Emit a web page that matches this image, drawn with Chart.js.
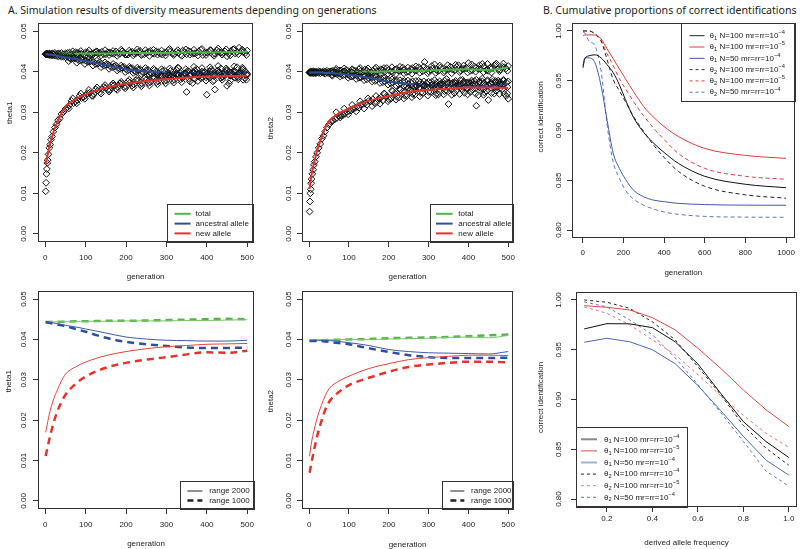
<!DOCTYPE html>
<html><head><meta charset="utf-8">
<script src="https://cdn.jsdelivr.net/npm/chart.js@4.4.1/dist/chart.umd.min.js"></script>
<style>
html,body{margin:0;padding:0;background:#fff;}
#wrap{position:relative;width:800px;height:549px;overflow:hidden;background:#fff;}
canvas{position:absolute;}
.ttl{position:absolute;font-family:"Noto Sans";color:#231f20;white-space:nowrap;line-height:1;}
</style></head><body>
<div id="wrap">
<div class="ttl" id="tA">A. Simulation results of diversity measurements depending on generations</div>
<div class="ttl" id="tB">B. Cumulative proportions of correct identifications</div>
</div>
<script>
// ---------- DATA ----------
// scatter generations (top panels), three interleaved sampling grids
const sx = [1,2,3,4,5,6,8,10,12,14,17,20,24,28,32,36,40,45,50,60,70,80,90,100,110,120,130,140,150,160,170,180,190,200,210,220,230,240,250,260,270,280,290,300,310,320,330,340,350,360,370,380,390,400,410,420,430,440,450,460,470,480,490,500];
const sx2 = [55,65,75,85,95,105,115,125,135,145,155,165,175,185,195,205,215,225,235,245,255,265,275,285,295,305,315,325,335,345,355,365,375,385,395,405,415,425,435,445,455,465,475,485,495];
const sx3 = [58,68,78,88,98,108,118,128,138,148,158,168,178,188,198,208,218,228,238,248,258,268,278,288,298,308,318,328,338,348,358,368,378,388,398,408,418,428,438,448,458,468,478,488,498];
const t1TotalPts = [0.0443,0.0443,0.0444,0.0443,0.0444,0.0444,0.0443,0.0445,0.0444,0.0443,0.0445,0.0444,0.0446,0.0443,0.0445,0.0444,0.0446,0.0443,
 0.0445,0.0447,0.0443,0.0446,0.0444,0.0448,0.0442,0.0446,0.0445,0.0449,0.0443,0.0447,0.0444,0.0446,0.0450,0.0442,0.0447,0.0445,0.0449,0.0443,0.0446,0.0451,0.0444,0.0448,0.0442,0.0447,0.0450,0.0444,0.0446,0.0452,0.0443,0.0448,0.0445,0.0450,0.0441,0.0447,0.0453,0.0444,0.0449,0.0446,0.0438,0.0451,0.0445,0.0459,0.0448,0.0452];
const t1TotalPts2 = [0.0446,0.0443,0.0448,0.0445,0.0442,0.0447,0.0444,0.0449,0.0446,0.0443,0.0448,0.0445,0.0450,0.0444,0.0447,0.0442,0.0449,0.0446,0.0451,0.0443,0.0448,0.0445,0.0450,0.0444,0.0447,0.0453,0.0445,0.0449,0.0442,0.0448,0.0451,0.0444,0.0447,0.0454,0.0446,0.0449,0.0443,0.0452,0.0447,0.0450,0.0445,0.0455,0.0448,0.0451,0.0446];
const t1TotalPts3 = [0.0440,0.0450,0.0441,0.0451,0.0439,0.0452,0.0442,0.0450,0.0440,0.0453,0.0441,0.0451,0.0439,0.0454,0.0442,0.0452,0.0440,0.0455,0.0441,0.0453,0.0439,0.0454,0.0442,0.0452,0.0440,0.0456,0.0441,0.0453,0.0439,0.0455,0.0442,0.0454,0.0440,0.0456,0.0441,0.0453,0.0439,0.0457,0.0442,0.0455,0.0440,0.0456,0.0443,0.0454,0.0441];
const t1AncPts = [0.0443,0.0443,0.0443,0.0442,0.0443,0.0442,0.0442,0.0441,0.0442,0.0441,0.0440,0.0441,0.0440,0.0439,0.0438,0.0439,0.0437,0.0437,
 0.0436,0.0433,0.0434,0.0430,0.0429,0.0427,0.0425,0.0424,0.0420,0.0419,0.0417,0.0414,0.0413,0.0409,0.0410,0.0406,0.0408,0.0402,0.0405,0.0399,0.0403,0.0397,0.0404,0.0396,0.0401,0.0394,0.0402,0.0397,0.0409,0.0393,0.0400,0.0395,0.0403,0.0391,0.0399,0.0396,0.0405,0.0392,0.0398,0.0394,0.0402,0.0390,0.0400,0.0396,0.0407,0.0395];
const t1AncPts2 = [0.0437,0.0431,0.0433,0.0427,0.0430,0.0424,0.0427,0.0419,0.0423,0.0415,0.0418,0.0411,0.0415,0.0407,0.0412,0.0403,0.0409,0.0400,0.0406,0.0398,0.0404,0.0395,0.0401,0.0393,0.0403,0.0397,0.0392,0.0404,0.0396,0.0390,0.0401,0.0398,0.0406,0.0393,0.0399,0.0389,0.0402,0.0395,0.0408,0.0391,0.0400,0.0394,0.0411,0.0397,0.0401];
const t1AncPts3 = [0.0426,0.0438,0.0422,0.0434,0.0419,0.0431,0.0415,0.0427,0.0411,0.0423,0.0407,0.0419,0.0403,0.0415,0.0399,
 0.0412,0.0397,0.0410,0.0394,0.0409,0.0392,0.0407,0.0391,0.0406,0.0390,
 0.0408,0.0389,0.0410,0.0387,0.0406,0.0390,0.0412,0.0388,0.0409,0.0386,0.0411,0.0389,0.0414,0.0387,0.0408,0.0390,0.0413,0.0386,0.0410,0.0392];
const t1NewPts = [0.0105,0.0126,0.0148,0.0160,0.0175,0.0182,0.0196,0.0212,0.0220,0.0232,0.0240,0.0252,0.0262,0.0270,0.0280,0.0285,0.0296,0.0300,
 0.0308,0.0318,0.0322,0.0330,0.0335,0.0342,0.0348,0.0345,0.0353,0.0357,0.0360,0.0355,0.0366,0.0362,0.0370,0.0364,0.0373,0.0368,0.0378,0.0370,0.0380,0.0374,0.0385,0.0376,0.0388,0.0378,0.0390,0.0380,0.0392,0.0384,0.0350,0.0391,0.0382,0.0395,0.0386,0.0343,0.0394,0.0356,0.0397,0.0387,0.0365,0.0398,0.0385,0.0396,0.0380,0.0392];
const t1NewPts2 = [0.0312,0.0328,0.0327,0.0340,0.0337,0.0347,0.0341,0.0356,0.0349,0.0362,0.0355,0.0367,0.0358,0.0371,0.0362,0.0376,0.0366,0.0379,0.0369,0.0383,0.0372,0.0386,0.0374,0.0389,0.0377,0.0392,0.0378,0.0394,0.0381,0.0396,0.0383,0.0372,0.0397,0.0384,0.0399,0.0386,0.0376,0.0401,0.0385,0.0398,0.0371,0.0400,0.0387,0.0402,0.0384];
const t1NewPts3 = [0.0309,0.0334,0.0322,0.0346,0.0333,0.0355,0.0340,0.0361,0.0346,0.0367,0.0351,0.0371,0.0355,0.0375,0.0359,
 0.0380,0.0361,0.0383,0.0364,0.0386,0.0366,0.0388,0.0369,0.0390,0.0371,
 0.0392,0.0373,0.0394,0.0374,0.0396,0.0376,0.0398,0.0377,0.0400,0.0378,0.0401,0.0379,0.0403,0.0380,0.0404,0.0378,0.0402,0.0381,0.0405,0.0380];
const t2TotalPts = [0.0398,0.0399,0.0398,0.0400,0.0399,0.0398,0.0400,0.0399,0.0401,0.0398,0.0400,0.0399,0.0401,0.0400,0.0399,0.0401,0.0400,0.0402,
 0.0400,0.0402,0.0399,0.0403,0.0401,0.0398,0.0404,0.0400,0.0402,0.0405,0.0399,0.0403,0.0401,0.0406,0.0400,0.0404,0.0398,0.0407,0.0402,0.0405,0.0400,0.0409,0.0403,0.0406,0.0424,0.0401,0.0408,0.0404,0.0410,0.0402,0.0407,0.0405,0.0412,0.0403,0.0408,0.0421,0.0404,0.0410,0.0406,0.0413,0.0402,0.0409,0.0420,0.0405,0.0411,0.0414];
const t2TotalPts2 = [0.0401,0.0398,0.0403,0.0400,0.0404,0.0399,0.0402,0.0406,0.0400,0.0403,0.0398,0.0407,0.0401,0.0404,0.0409,0.0400,0.0405,0.0402,0.0410,0.0399,0.0406,0.0403,0.0411,0.0401,0.0407,0.0404,0.0418,0.0402,0.0408,0.0405,0.0412,0.0403,0.0416,0.0406,0.0409,0.0402,0.0413,0.0407,0.0419,0.0404,0.0410,0.0415,0.0406,0.0412,0.0408];
const t2TotalPts3 = [0.0393,0.0407,0.0394,0.0408,0.0392,0.0406,0.0395,0.0409,0.0393,0.0408,0.0394,0.0410,0.0392,0.0409,0.0395,
 0.0411,0.0394,0.0412,0.0396,0.0410,0.0395,0.0413,0.0397,0.0412,0.0396,
 0.0414,0.0397,0.0415,0.0398,0.0416,0.0396,0.0417,0.0399,0.0415,0.0398,0.0418,0.0400,0.0416,0.0399,0.0419,0.0398,0.0417,0.0401,0.0420,0.0402];
const t2AncPts = [0.0398,0.0397,0.0398,0.0397,0.0398,0.0397,0.0398,0.0396,0.0398,0.0397,0.0396,0.0398,0.0397,0.0396,0.0398,0.0397,0.0395,0.0397,
 0.0396,0.0398,0.0394,0.0396,0.0392,0.0394,0.0389,0.0391,0.0386,0.0389,0.0384,0.0387,0.0380,0.0384,0.0376,0.0380,0.0373,0.0378,0.0371,0.0377,0.0369,0.0376,0.0366,0.0374,0.0365,0.0375,0.0363,0.0373,0.0366,0.0378,0.0362,0.0372,0.0365,0.0379,0.0361,0.0371,0.0367,0.0380,0.0360,0.0372,0.0366,0.0381,0.0362,0.0374,0.0368,0.0376];
const t2AncPts2 = [0.0399,0.0395,0.0397,0.0391,0.0395,0.0388,0.0392,0.0385,0.0390,0.0381,0.0386,0.0377,0.0383,0.0374,0.0380,0.0371,0.0378,0.0369,0.0376,0.0364,0.0374,0.0362,0.0377,0.0367,0.0372,0.0361,0.0379,0.0364,0.0370,0.0382,0.0360,0.0373,0.0366,0.0380,0.0359,0.0371,0.0377,0.0363,0.0383,0.0365,0.0372,0.0361,0.0378,0.0369,0.0374];
const t2AncPts3 = [0.0390,0.0403,0.0388,0.0401,0.0385,0.0398,0.0382,0.0395,0.0379,0.0392,0.0376,0.0388,0.0372,0.0384,0.0368,
 0.0381,0.0366,0.0379,0.0364,0.0378,0.0362,0.0377,0.0361,0.0376,0.0360,
 0.0375,0.0358,0.0376,0.0359,0.0374,0.0357,0.0377,0.0360,0.0375,0.0358,0.0378,0.0359,0.0376,0.0357,0.0379,0.0360,0.0377,0.0358,0.0380,0.0362];
const t2NewPts = [0.0055,0.0080,0.0100,0.0110,0.0125,0.0135,0.0148,0.0158,0.0170,0.0178,0.0190,0.0200,0.0212,0.0222,0.0235,0.0242,0.0252,0.0262,
 0.0270,0.0280,0.0286,0.0292,0.0296,0.0303,0.0308,0.0313,0.0318,0.0322,0.0328,0.0332,0.0325,0.0336,0.0345,0.0332,0.0352,0.0338,0.0356,0.0341,0.0360,0.0345,0.0364,0.0348,0.0366,0.0350,0.0368,0.0346,0.0370,0.0352,0.0320,0.0372,0.0354,0.0368,0.0348,0.0374,0.0356,0.0316,0.0371,0.0349,0.0330,0.0375,0.0353,0.0369,0.0345,0.0333];
const t2NewPts2 = [0.0276,0.0283,0.0291,0.0293,0.0301,0.0304,0.0310,0.0311,0.0320,0.0318,0.0327,0.0322,0.0334,0.0329,0.0340,0.0333,0.0347,0.0336,0.0351,0.0340,0.0355,0.0343,0.0360,0.0347,0.0363,0.0350,0.0367,0.0344,0.0369,0.0353,0.0371,0.0347,0.0366,0.0355,0.0373,0.0350,0.0369,0.0342,0.0376,0.0352,0.0370,0.0346,0.0374,0.0357,0.0340];
const t2NewPts3 = [0.0278,0.0300,0.0287,0.0309,0.0295,0.0318,0.0302,0.0327,0.0309,0.0334,0.0315,0.0340,0.0321,0.0346,0.0327,
 0.0353,0.0331,0.0356,0.0334,0.0359,0.0337,0.0362,0.0339,0.0365,0.0341,
 0.0368,0.0342,0.0369,0.0344,0.0371,0.0343,0.0372,0.0345,0.0373,0.0344,0.0374,0.0346,0.0375,0.0343,0.0376,0.0347,0.0374,0.0345,0.0377,0.0346];

// smoothed curves (range 2000 = solid, range 1000 = dashed)
const lg = [1,5,10,20,30,40,50,75,100,150,200,250,300,350,400,450,500];
const t1Total  = [0.0443,0.0443,0.0443,0.0443,0.0444,0.0444,0.0444,0.0444,0.0445,0.0445,0.0446,0.0446,0.0446,0.0447,0.0447,0.0448,0.0449];
const t1Anc    = [0.0443,0.0443,0.0442,0.0441,0.0439,0.0437,0.0435,0.0431,0.0426,0.0416,0.0406,0.0401,0.0398,0.0397,0.0396,0.0396,0.0398];
const t1New    = [0.0170,0.0190,0.0215,0.0250,0.0275,0.0297,0.0314,0.0332,0.0344,0.0360,0.0370,0.0377,0.0382,0.0385,0.0388,0.0389,0.0390];
const t1TotalD = [0.0443,0.0443,0.0443,0.0444,0.0444,0.0444,0.0444,0.0445,0.0445,0.0446,0.0446,0.0447,0.0448,0.0449,0.0450,0.0451,0.0450];
const t1AncD   = [0.0443,0.0442,0.0441,0.0439,0.0437,0.0435,0.0433,0.0426,0.0419,0.0404,0.0394,0.0388,0.0384,0.0380,0.0379,0.0379,0.0380];
const t1NewD   = [0.0111,0.0130,0.0152,0.0192,0.0222,0.0245,0.0263,0.0290,0.0308,0.0330,0.0342,0.0350,0.0356,0.0363,0.0368,0.0367,0.0372];
const t2Total  = [0.0398,0.0398,0.0398,0.0399,0.0399,0.0399,0.0399,0.0400,0.0400,0.0400,0.0401,0.0402,0.0403,0.0405,0.0406,0.0404,0.0410];
const t2Anc    = [0.0398,0.0398,0.0398,0.0398,0.0398,0.0397,0.0397,0.0395,0.0392,0.0385,0.0375,0.0370,0.0367,0.0366,0.0365,0.0364,0.0370];
const t2New    = [0.0111,0.0140,0.0165,0.0205,0.0235,0.0260,0.0278,0.0297,0.0309,0.0328,0.0340,0.0350,0.0355,0.0358,0.0361,0.0361,0.0360];
const t2TotalD = [0.0396,0.0397,0.0397,0.0398,0.0398,0.0398,0.0399,0.0399,0.0400,0.0401,0.0403,0.0404,0.0405,0.0406,0.0408,0.0410,0.0412];
const t2AncD   = [0.0396,0.0396,0.0396,0.0396,0.0396,0.0395,0.0394,0.0391,0.0388,0.0378,0.0369,0.0361,0.0356,0.0354,0.0354,0.0354,0.0355];
const t2NewD   = [0.0070,0.0090,0.0115,0.0160,0.0195,0.0225,0.0245,0.0270,0.0287,0.0305,0.0320,0.0332,0.0338,0.0342,0.0345,0.0345,0.0343];

// B top: cumulative correct identification vs generation
const cg = [1,10,30,60,90,120,150,180,210,250,300,350,400,470,600,800,1000];
const c1N100m4 = [0.963,0.972,0.975,0.976,0.973,0.966,0.958,0.946,0.931,0.913,0.898,0.887,0.878,0.867,0.854,0.846,0.8425];
const c1N100m5 = [0.995,0.996,0.996,0.996,0.992,0.982,0.972,0.962,0.952,0.939,0.924,0.913,0.904,0.894,0.882,0.875,0.872];
const c1N50m4  = [0.965,0.973,0.973,0.968,0.945,0.910,0.877,0.862,0.851,0.840,0.8334,0.830,0.8285,0.8268,0.8256,0.825,0.8249];
const c2N100m4 = [1.000,1.000,1.000,0.997,0.990,0.971,0.951,0.940,0.929,0.914,0.899,0.885,0.873,0.859,0.844,0.8354,0.832];
const c2N100m5 = [1.000,1.000,1.000,0.997,0.990,0.977,0.965,0.952,0.942,0.929,0.9146,0.902,0.891,0.877,0.862,0.854,0.851];
const c2N50m4  = [0.999,0.998,0.990,0.985,0.960,0.905,0.868,0.852,0.840,0.831,0.8249,0.821,0.8181,0.8158,0.8137,0.813,0.8128];

// B bottom: correct identification vs derived allele frequency
const fx = [0.1,0.2,0.3,0.4,0.5,0.6,0.7,0.8,0.9,1.0];
const d1N100m4 = [0.9709,0.9762,0.976,0.9722,0.958,0.9357,0.9063,0.8778,0.8577,0.8417];
const d1N100m5 = [0.9943,0.9926,0.990,0.9822,0.970,0.9515,0.9314,0.9096,0.8896,0.8728];
const d1N50m4  = [0.9575,0.9615,0.958,0.950,0.936,0.914,0.889,0.863,0.839,0.824];
const d2N100m4 = [1.000,0.9977,0.9916,0.978,0.960,0.933,0.905,0.874,0.851,0.834];
const d2N100m5 = [0.993,0.9866,0.975,0.960,0.945,0.925,0.904,0.884,0.866,0.852];
const d2N50m4  = [0.998,0.993,0.980,0.965,0.942,0.915,0.887,0.858,0.828,0.813];

const legTop = ['total','ancestral allele','new allele'];
const legRange = ['range 2000','range 1000'];
const legB = [
  [['θ',''],['1','sub'],[' N=100 mr=rr=10',''],['−4','sup']],
  [['θ',''],['1','sub'],[' N=100 mr=rr=10',''],['−5','sup']],
  [['θ',''],['1','sub'],[' N=50 mr=rr=10',''],['−4','sup']],
  [['θ',''],['2','sub'],[' N=100 mr=rr=10',''],['−4','sup']],
  [['θ',''],['2','sub'],[' N=100 mr=rr=10',''],['−5','sup']],
  [['θ',''],['2','sub'],[' N=50 mr=rr=10',''],['−4','sup']]
];

// ---------- DRAWING ----------
const FAM = '"Liberation Sans", Arial, sans-serif';
const FONT = '8px ' + FAM;
const wrap = document.getElementById('wrap');
const GREEN = '#4cb648', BLUE = '#2e4f9e', RED = '#e6322c';

const pts = (xs, ys) => xs.map((x, i) => ({x: x, y: ys[i]}));
function lineDS(xs, ys, color, w, dash, smooth) {
  return {type: 'line', data: pts(xs, ys), borderColor: color, borderWidth: w, borderDash: dash || [],
    pointRadius: 0, pointHoverRadius: 0, fill: false, tension: 0,
    cubicInterpolationMode: smooth ? 'monotone' : 'default', borderCapStyle: 'butt'};
}
function scatDS(xs, ys, xs2, ys2, xs3, ys3) {
  return {type: 'line', data: pts(xs, ys).concat(pts(xs2, ys2), pts(xs3, ys3)), showLine: false, pointStyle: 'rectRot', pointRadius: 3.4,
    pointBorderWidth: 1, pointBorderColor: '#111', pointBackgroundColor: 'rgba(0,0,0,0)', borderColor: '#111'};
}

function richText(ctx, x, y, segs, fs) {
  let cx = x;
  segs.forEach(s => {
    const t = s[0], m = s[1];
    let size = fs, dy = 0;
    if (m === 'sub') { size = fs * 0.72; dy = fs * 0.3; }
    if (m === 'sup') { size = fs * 0.72; dy = -fs * 0.4; }
    ctx.font = size + 'px ' + FAM;
    ctx.fillText(t, cx, y + dy);
    cx += ctx.measureText(t).width;
  });
}

function makeRPlugin(c) {
  return {
    id: 'rstyle',
    afterDraw(chart) {
      const ctx = chart.ctx, ca = chart.chartArea;
      ctx.save();
      if (c.legend) {
        const L = c.legend;
        let x0, y0;
        if (L.corner === 'br') { x0 = ca.right - L.w; y0 = ca.bottom - L.h; }
        else if (L.corner === 'tr') { x0 = ca.right - L.w; y0 = ca.top; }
        else { x0 = ca.left; y0 = ca.bottom - L.h; }
        ctx.fillStyle = '#fff'; ctx.fillRect(x0, y0, L.w, L.h);
        ctx.strokeStyle = '#333'; ctx.lineWidth = 1;
        ctx.strokeRect(Math.round(x0) + 0.5, Math.round(y0) + 0.5, L.w, L.h);
        L.items.forEach((it, i) => {
          const yy = y0 + L.row0 + i * L.step;
          ctx.save();
          ctx.strokeStyle = it.color; ctx.lineWidth = it.w; ctx.setLineDash(it.dash || []);
          ctx.beginPath(); ctx.moveTo(x0 + L.lx0, yy); ctx.lineTo(x0 + L.lx1, yy); ctx.stroke();
          ctx.restore();
          ctx.fillStyle = '#222'; ctx.textBaseline = 'middle'; ctx.textAlign = 'left';
          const segs = Array.isArray(it.text) ? it.text : [[it.text, '']];
          richText(ctx, x0 + L.tx, yy, segs, 8);
        });
      }
      ctx.setLineDash([]);
      ctx.strokeStyle = '#333'; ctx.lineWidth = 1;
      ctx.strokeRect(Math.round(ca.left) + 0.5, Math.round(ca.top) + 0.5,
        Math.round(ca.right - ca.left) - 1, Math.round(ca.bottom - ca.top) - 1);
      const ys = chart.scales.y;
      ctx.fillStyle = '#222'; ctx.font = FONT;
      ys.ticks.forEach(t => {
        const py = ys.getPixelForValue(t.value);
        ctx.save(); ctx.translate(ca.left - c.yOff, py); ctx.rotate(-Math.PI / 2);
        ctx.textAlign = 'center'; ctx.textBaseline = 'middle';
        ctx.fillText(t.value.toFixed(2), 0, 0); ctx.restore();
      });
      ctx.textAlign = 'center'; ctx.textBaseline = 'middle';
      ctx.fillText(c.xTitle, (ca.left + ca.right) / 2, ca.bottom + c.xTitleOff);
      ctx.save();
      ctx.translate(ca.left - c.yTitleOff, ca.top + c.yTitleFrac * (ca.bottom - ca.top));
      ctx.rotate(-Math.PI / 2); ctx.fillText(c.yTitle, 0, 0); ctx.restore();
      ctx.restore();
    }
  };
}

function makePanel(c) {
  const b = c.box;
  const cl = Math.max(0, b.l - 42), ct = b.t - 6, cr = Math.min(800, b.r + 2), cb = Math.min(549, b.b + 40);
  const cv = document.createElement('canvas');
  cv.width = cr - cl; cv.height = cb - ct;
  cv.style.left = cl + 'px'; cv.style.top = ct + 'px';
  cv.style.width = (cr - cl) + 'px'; cv.style.height = (cb - ct) + 'px';
  wrap.appendChild(cv);
  const yW = b.l - cl, xH = cb - b.b;
  const n = c.datasets.length;
  c.datasets.forEach((d, i) => { d.order = n - i; });
  const grid = {display: true, drawOnChartArea: false, drawTicks: true, tickLength: 5, color: '#333', lineWidth: 1};
  new Chart(cv, {
    type: 'line',
    data: {datasets: c.datasets},
    options: {
      responsive: false, animation: false, devicePixelRatio: 1,
      layout: {padding: {top: b.t - ct, right: cr - b.r, left: 0, bottom: 0}},
      plugins: {legend: {display: false}, tooltip: {enabled: false}},
      events: [],
      scales: {
        x: {type: 'linear', position: 'bottom', min: c.x.min, max: c.x.max,
          afterFit: s => { s.height = xH; },
          ticks: {stepSize: c.x.step, includeBounds: false, autoSkip: false, maxRotation: 0, minRotation: 0,
            padding: c.x.pad, color: '#222', font: {size: 8, family: FAM}, callback: c.x.fmt},
          grid: grid, border: {display: false}},
        y: {type: 'linear', position: 'left', min: c.y.min, max: c.y.max,
          afterFit: s => { s.width = yW; },
          ticks: {stepSize: c.y.step, includeBounds: false, display: false},
          grid: grid, border: {display: false}}
      }
    },
    plugins: [makeRPlugin(c)]
  });
}

const fmtInt = v => String(Math.round(v));
const fmt1 = v => v.toFixed(1);

const topLegend = (w, lx0, lx1, tx) => ({corner: 'br', w: w, h: 38, row0: 9.8, step: 9.8, lx0: lx0, lx1: lx1, tx: tx,
  items: [{color: GREEN, w: 2, text: legTop[0]}, {color: BLUE, w: 2, text: legTop[1]}, {color: RED, w: 2, text: legTop[2]}]});
const rangeLegend = (w, lx0, lx1, tx) => ({corner: 'br', w: w, h: 28, row0: 10, step: 9.4, lx0: lx0, lx1: lx1, tx: tx,
  items: [{color: '#222', w: 1, text: legRange[0]}, {color: '#222', w: 2.5, dash: [6, 4], text: legRange[1]}]});

function drawAll() {
  Chart.defaults.font.family = FAM;
  Chart.defaults.animation = false;

  makePanel({box: {l: 38, t: 23, r: 258, b: 242},
    x: {min: -18, max: 515, step: 100, fmt: fmtInt, pad: 6},
    y: {min: -0.002, max: 0.052, step: 0.01}, yOff: 14.5,
    xTitle: 'generation', xTitleOff: 35, yTitle: 'theta1', yTitleFrac: 0.41, yTitleOff: 28.5,
    legend: topLegend(86, 7.3, 23.3, 28.3),
    datasets: [scatDS(sx, t1TotalPts, sx2, t1TotalPts2, sx3, t1TotalPts3), lineDS(lg, t1Total, GREEN, 2, null, true),
      scatDS(sx, t1AncPts, sx2, t1AncPts2, sx3, t1AncPts3), lineDS(lg, t1Anc, BLUE, 2, null, true),
      scatDS(sx, t1NewPts, sx2, t1NewPts2, sx3, t1NewPts3), lineDS(lg, t1New, RED, 2, null, true)]});

  makePanel({box: {l: 302, t: 23, r: 519, b: 242},
    x: {min: -18, max: 512, step: 100, fmt: fmtInt, pad: 6},
    y: {min: -0.002, max: 0.052, step: 0.01}, yOff: 13.7,
    xTitle: 'generation', xTitleOff: 35, yTitle: 'theta2', yTitleFrac: 0.48, yTitleOff: 31,
    legend: topLegend(83, 6, 22.6, 28.3),
    datasets: [scatDS(sx, t2TotalPts, sx2, t2TotalPts2, sx3, t2TotalPts3), lineDS(lg, t2Total, GREEN, 2, null, true),
      scatDS(sx, t2AncPts, sx2, t2AncPts2, sx3, t2AncPts3), lineDS(lg, t2Anc, BLUE, 2, null, true),
      scatDS(sx, t2NewPts, sx2, t2NewPts2, sx3, t2NewPts3), lineDS(lg, t2New, RED, 2, null, true)]});

  makePanel({box: {l: 572, t: 23, r: 798, b: 238},
    x: {min: -53, max: 1042, step: 200, fmt: fmtInt, pad: 5},
    y: {min: 0.792, max: 1.008, step: 0.05}, yOff: 13.7,
    xTitle: 'generation', xTitleOff: 35, yTitle: 'correct identification', yTitleFrac: 0.437, yTitleOff: 31,
    legend: {corner: 'tr', w: 114, h: 78, row0: 12.7, step: 11.3, lx0: 9, lx1: 24, tx: 29,
      items: [{color: '#222', w: 1, text: legB[0]}, {color: '#e03c3c', w: 1, text: legB[1]}, {color: '#3f5aa8', w: 1, text: legB[2]},
        {color: '#333', w: 1, dash: [3, 3], text: legB[3]}, {color: '#e03c3c', w: 1, dash: [3, 3], text: legB[4]}, {color: '#5b74c0', w: 1, dash: [3, 3], text: legB[5]}]},
    datasets: [lineDS(cg, c2N50m4, '#5b74c0', 1, [4, 3], true), lineDS(cg, c2N100m5, '#e03c3c', 1, [4, 3], true),
      lineDS(cg, c2N100m4, '#222', 1, [4, 3], true), lineDS(cg, c1N50m4, '#3f5aa8', 1, null, true),
      lineDS(cg, c1N100m5, '#e03c3c', 1, null, true), lineDS(cg, c1N100m4, '#111', 1, null, true)]});

  makePanel({box: {l: 38, t: 291, r: 258, b: 509},
    x: {min: -18, max: 517, step: 100, fmt: fmtInt, pad: 6},
    y: {min: -0.002, max: 0.052, step: 0.01}, yOff: 14.5,
    xTitle: 'generation', xTitleOff: 34.5, yTitle: 'theta1', yTitleFrac: 0.414, yTitleOff: 29.5,
    legend: rangeLegend(74, 7.3, 22.3, 29),
    datasets: [lineDS(lg, t1TotalD, '#55b44a', 2.5, [7, 5], true), lineDS(lg, t1Total, '#7cc46a', 1, null, true),
      lineDS(lg, t1AncD, BLUE, 2.5, [7, 5], true), lineDS(lg, t1Anc, '#3c5aa6', 1, null, true),
      lineDS(lg, t1NewD, RED, 2.5, [7, 5], true), lineDS(lg, t1New, '#e6423c', 1, null, true)]});

  makePanel({box: {l: 302, t: 291, r: 519, b: 509},
    x: {min: -18, max: 512, step: 100, fmt: fmtInt, pad: 6},
    y: {min: -0.002, max: 0.052, step: 0.01}, yOff: 13,
    xTitle: 'generation', xTitleOff: 35.5, yTitle: 'theta2', yTitleFrac: 0.505, yTitleOff: 31.2,
    legend: rangeLegend(71, 8.3, 22.3, 29),
    datasets: [lineDS(lg, t2TotalD, '#55b44a', 2.5, [7, 5], true), lineDS(lg, t2Total, '#7cc46a', 1, null, true),
      lineDS(lg, t2AncD, BLUE, 2.5, [7, 5], true), lineDS(lg, t2Anc, '#3c5aa6', 1, null, true),
      lineDS(lg, t2NewD, RED, 2.5, [7, 5], true), lineDS(lg, t2New, '#e6423c', 1, null, true)]});

  makePanel({box: {l: 576, t: 292, r: 797, b: 507},
    x: {min: 0.064, max: 1.036, step: 0.2, fmt: fmt1, pad: 2},
    y: {min: 0.792, max: 1.008, step: 0.05}, yOff: 17,
    xTitle: 'derived allele frequency', xTitleOff: 36, yTitle: 'correct identification', yTitleFrac: 0.49, yTitleOff: 35,
    legend: {corner: 'bl', w: 111, h: 80, row0: 12.3, step: 11.6, lx0: 5, lx1: 21, tx: 28,
      items: [{color: '#8a8a8a', w: 2, text: legB[0]}, {color: '#e04848', w: 1, text: legB[1]}, {color: '#9fb1de', w: 2, text: legB[2]},
        {color: '#222', w: 1, dash: [3, 3], text: legB[3]}, {color: '#ef7a7a', w: 1, dash: [3, 3], text: legB[4]}, {color: '#5b74c0', w: 1, dash: [3, 3], text: legB[5]}]},
    datasets: [lineDS(fx, d2N50m4, '#5b74c0', 1, [3, 3], false), lineDS(fx, d2N100m5, '#ef7070', 1, [3, 3], false),
      lineDS(fx, d2N100m4, '#222', 1, [3, 3], false), lineDS(fx, d1N50m4, '#4d68b8', 1, null, false),
      lineDS(fx, d1N100m5, '#e04848', 1, null, false), lineDS(fx, d1N100m4, '#111', 1, null, false)]});

  fitTitle('tA', 8, 14, 369);
  fitTitle('tB', 543, 14, 254);
}

function fitTitle(id, left, baseline, targetW) {
  const el = document.getElementById(id);
  el.style.fontSize = '12px';
  const w = el.getBoundingClientRect().width;
  const fs = 12 * targetW / w;
  el.style.fontSize = fs + 'px';
  el.style.left = left + 'px';
  el.style.top = (baseline - 0.888 * fs) + 'px';
}

let done = false;
function go() { if (done) return; done = true; drawAll(); }
if (document.fonts && document.fonts.load) {
  Promise.all([document.fonts.load('8px "Liberation Sans"'), document.fonts.load('12px "Noto Sans"')]).then(go, go);
  setTimeout(go, 300);
} else { go(); }
</script>
</body></html>
